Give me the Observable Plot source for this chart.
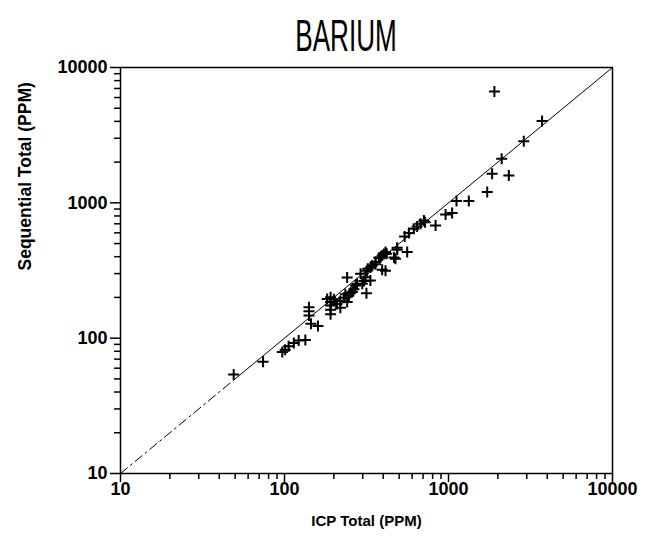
<!DOCTYPE html>
<html><head><meta charset="utf-8">
<script src="https://cdn.jsdelivr.net/npm/d3@7"></script>
<script src="https://cdn.jsdelivr.net/npm/@observablehq/plot@0.6"></script>
<style>
body{margin:0;background:#fff;}
#wrap{position:relative;width:647px;height:538px;}
#title{position:absolute;left:346px;top:10px;transform:translateX(-50%) scaleX(0.58);font-family:"Liberation Sans",Arial,sans-serif;font-size:45px;font-weight:normal;white-space:nowrap;pointer-events:none;z-index:2;}
</style></head><body>
<div id="wrap"><div id="title"></div></div>
<script>
const title = "BARIUM";
const xLabel = "ICP Total (PPM)";
const yLabel = "Sequential Total (PPM)";
const majorTicks = [10, 100, 1000, 10000];
const minorTicks = [20,30,40,50,60,70,80,90,200,300,400,500,600,700,800,900,2000,3000,4000,5000,6000,7000,8000,9000];
const diagonal = [10, 50, 10000];

const icp = [49, 74, 97, 101, 106, 114, 122, 134, 141, 141, 141, 145, 160,
  182, 191, 191, 191, 191, 191, 200, 209, 219, 219, 230, 241, 247, 259, 241, 271,
  291, 298, 312, 316, 322, 334, 343, 359, 376, 394, 394, 413, 420, 475, 486, 560,
  540, 573, 614, 644, 675, 708, 720, 834, 960, 1052, 1119, 1330, 1722, 1845, 2333,
  2110, 2877, 3720, 1905, 235, 253, 265, 277, 305, 319, 334, 359, 385, 403, 413, 465, 487];
const seq = [54, 67, 79, 82, 87, 92, 96, 97, 169, 158, 147, 128, 123,
  195, 201, 185, 174, 162, 150, 194, 179, 188, 168, 199, 185, 207, 219, 281, 245,
  299, 252, 282, 215, 326, 267, 344, 365, 393, 409, 320, 433, 420, 386, 466, 433,
  565, 598, 644, 669, 700, 741, 720, 681, 821, 840, 1030, 1030, 1200, 1641, 1593,
  2120, 2857, 4018, 6650, 211, 217, 230, 251, 265, 315, 333, 352, 395, 418, 315, 395, 450];

document.getElementById("title").textContent = title;
const points = icp.map((x, i) => ({icp: x, seq: seq[i]}));
const plus = {draw(ctx, size) {const r = Math.sqrt(size / Math.PI); ctx.moveTo(-r, 0); ctx.lineTo(r, 0); ctx.moveTo(0, -r); ctx.lineTo(0, r);}};

const chart = Plot.plot({
  width: 647, height: 538,
  marginLeft: 120, marginRight: 35, marginTop: 67, marginBottom: 65,
  style: {fontFamily: "Liberation Sans, Arial, sans-serif", fontSize: "18px", fontWeight: "bold", background: "white", color: "black"},
  x: {type: "log", domain: [10, 10000]},
  y: {type: "log", domain: [10, 10000]},
  marks: [
    Plot.line(diagonal.slice(0, 2), {x: d => d, y: d => d, stroke: "black", strokeWidth: 1, strokeDasharray: "9,4,2,4"}),
    Plot.line(diagonal.slice(1), {x: d => d, y: d => d, stroke: "black", strokeWidth: 1}),
    Plot.frame({stroke: "black", strokeWidth: 1.5}),
    Plot.axisX(minorTicks, {tickSize: 6, strokeWidth: 1.5, tickFormat: () => "", label: null}),
    Plot.axisX(majorTicks, {tickSize: 9, strokeWidth: 1.5, tickPadding: 0, tickFormat: d => String(d), label: null, fontSize: 18}),
    Plot.axisY(minorTicks, {tickSize: 6, strokeWidth: 1.5, tickFormat: () => "", label: null}),
    Plot.axisY(majorTicks, {tickSize: 10, strokeWidth: 1.5, tickPadding: 3, tickFormat: d => String(d), label: null, fontSize: 18}),
    Plot.dot(points, {x: "icp", y: "seq", symbol: plus, r: 5.5, stroke: "black", strokeWidth: 2, fill: "none"}),
    Plot.text([xLabel], {frameAnchor: "bottom", dy: 52, fontSize: 15, fontWeight: "bold"}),
    Plot.text([yLabel], {frameAnchor: "left", dx: -95, rotate: -90, fontSize: 17.5, fontWeight: "bold"})
  ]
});
document.getElementById("wrap").prepend(chart);
chart.style.position = "absolute"; chart.style.left = "0"; chart.style.top = "0";
</script>
</body></html>
